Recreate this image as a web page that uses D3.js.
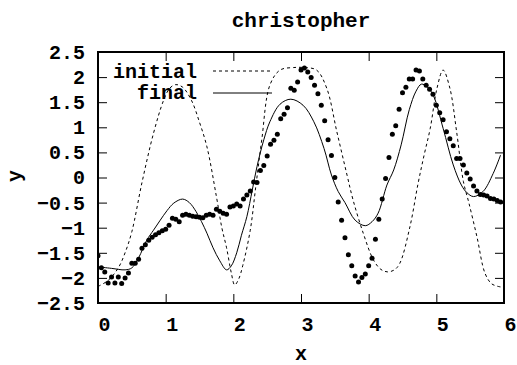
<!DOCTYPE html>
<html>
<head>
<meta charset="utf-8">
<script src="https://cdn.jsdelivr.net/npm/d3@7"></script>
<style>
  html, body { margin: 0; padding: 0; background: #fff; }
  svg { display: block; }
  text { font-family: "Liberation Mono", "DejaVu Sans Mono", monospace; font-weight: bold; fill: #000; }
</style>
</head>
<body>
<svg id="chart" width="517" height="365"></svg>
<script>
// ---------- data ----------
const title = "christopher";
const xLabel = "x";
const yLabel = "y";
const xTicks = [0, 1, 2, 3, 4, 5, 6];
const yTicks = [2.5, 2, 1.5, 1, 0.5, 0, -0.5, -1, -1.5, -2, -2.5];
const seriesNames = ["initial", "final"];

// observed data points (x grid step 0.05)
const dataStep = 0.05;
const dataY = [
  -1.56, -1.80, -1.88, -2.10, -1.98, -2.10, -1.98, -2.11, -2.00, -1.90,
  -1.71, -1.71, -1.63, -1.41, -1.34, -1.25, -1.19, -1.14, -1.10, -1.06,
  -1.03, -0.95, -0.81, -0.83, -0.88, -0.75, -0.73, -0.75, -0.77, -0.78,
  -0.79, -0.80, -0.75, -0.73, -0.75, -0.63, -0.67, -0.71, -0.73, -0.59,
  -0.57, -0.53, -0.57, -0.43, -0.35, -0.27, -0.09, -0.10, 0.14, 0.24,
  0.43, 0.66, 0.74, 0.86, 1.17, 1.26, 1.39, 1.78, 1.74, 1.90,
  2.14, 2.18, 2.10, 1.99, 1.84, 1.67, 1.44, 1.13, 0.75, 0.44,
  0.00, -0.49, -0.85, -1.20, -1.54, -1.76, -1.96, -2.08, -1.99, -1.92,
  -1.76, -1.61, -1.23, -0.83, -0.43, -0.02, 0.40, 0.86, 1.03, 1.36,
  1.69, 1.80, 1.96, 1.96, 2.14, 2.12, 1.96, 1.84, 1.76, 1.66,
  1.44, 1.29, 1.15, 0.91, 0.77, 0.63, 0.38, 0.38, 0.25, 0.09,
  -0.03, -0.17, -0.27, -0.34, -0.35, -0.37, -0.42, -0.43, -0.46, -0.49
];

// initial curve (dashed), sampled
const initialX = [0.00, 0.15, 0.30, 0.40, 0.50, 0.65, 0.82, 0.97, 1.06, 1.15, 1.25, 1.38, 1.50, 1.61, 1.75, 1.83, 1.90, 1.97, 2.02, 2.08, 2.14, 2.25, 2.33, 2.42, 2.54, 2.69, 2.89, 3.05, 3.23, 3.38, 3.53, 3.68, 3.77, 3.92, 4.07, 4.18, 4.28, 4.38, 4.46, 4.61, 4.73, 4.82, 4.91, 5.01, 5.10, 5.20, 5.30, 5.40, 5.48, 5.60, 5.72, 5.82, 5.95];
const initialY = [-2.17, -2.05, -1.80, -1.50, -1.08, -0.10, 0.88, 1.54, 1.78, 1.85, 1.80, 1.54, 1.10, 0.61, -0.38, -1.00, -1.40, -1.90, -2.14, -2.02, -1.75, -1.05, -0.20, 0.75, 1.84, 2.14, 2.19, 2.19, 2.14, 1.78, 0.91, 0.05, -0.45, -1.11, -1.64, -1.83, -1.88, -1.84, -1.71, -0.98, -0.12, 0.45, 0.98, 1.78, 2.14, 1.78, 0.91, -0.08, -0.50, -1.18, -1.91, -2.12, -2.18];

// final curve (solid), sampled
const finalX = [0.00, 0.20, 0.40, 0.50, 0.60, 0.72, 0.82, 0.92, 1.02, 1.12, 1.25, 1.35, 1.45, 1.53, 1.61, 1.70, 1.80, 1.90, 1.97, 2.05, 2.12, 2.20, 2.28, 2.35, 2.45, 2.54, 2.69, 2.85, 3.03, 3.19, 3.34, 3.45, 3.55, 3.65, 3.80, 3.95, 4.05, 4.14, 4.27, 4.37, 4.48, 4.60, 4.70, 4.78, 4.87, 4.96, 5.10, 5.25, 5.37, 5.45, 5.55, 5.69, 5.84, 5.95];
const finalY = [-1.78, -1.81, -1.84, -1.80, -1.60, -1.25, -1.05, -0.85, -0.66, -0.51, -0.43, -0.50, -0.68, -0.88, -1.11, -1.40, -1.66, -1.84, -1.76, -1.50, -1.15, -0.78, -0.25, 0.22, 0.75, 1.11, 1.46, 1.56, 1.44, 1.11, 0.58, 0.05, -0.28, -0.50, -0.85, -0.96, -0.88, -0.71, -0.15, 0.15, 0.65, 1.35, 1.72, 1.86, 1.80, 1.62, 0.98, 0.25, -0.15, -0.30, -0.38, -0.28, 0.08, 0.45];

// ---------- layout ----------
const svg = d3.select("#chart");
const L = 98, R = 504, T = 52, B = 303;
const x = d3.scaleLinear().domain([0, 6]).range([L, R]);
const y = d3.scaleLinear().domain([-2.5, 2.5]).range([B, T]);
const fs = 20;

// axes (ticks inward, mirrored)
const gx = svg.append("g").attr("transform", `translate(0,${B})`)
  .call(d3.axisBottom(x).tickValues(xTicks).tickSizeInner(-9).tickSizeOuter(0).tickPadding(14).tickFormat(d3.format("d")));
gx.selectAll("text").attr("dx", 6);
const gxt = svg.append("g").attr("transform", `translate(0,${T})`)
  .call(d3.axisTop(x).tickValues(xTicks).tickSizeInner(-9).tickSizeOuter(0).tickFormat(""));
const fmtY = d => (d < 0 ? "\u2212" : "") + d3.format("")(Math.abs(d));
const gy = svg.append("g").attr("transform", `translate(${L},0)`)
  .call(d3.axisLeft(y).tickValues(yTicks).tickSizeInner(-9).tickSizeOuter(0).tickPadding(13).tickFormat(fmtY));
const gyr = svg.append("g").attr("transform", `translate(${R},0)`)
  .call(d3.axisRight(y).tickValues(yTicks).tickSizeInner(-9).tickSizeOuter(0).tickFormat(""));
[gx, gxt, gy, gyr].forEach(g => {
  g.select(".domain").remove();
  g.selectAll("line").attr("stroke", "#000").attr("stroke-width", 1);
  g.selectAll("text").style("font-size", fs + "px").attr("fill", "#000");
});

// frame
svg.append("rect").attr("x", L).attr("y", T).attr("width", R - L).attr("height", B - T)
  .attr("fill", "none").attr("stroke", "#000").attr("stroke-width", 2);

// clip
svg.append("clipPath").attr("id", "clip").append("rect")
  .attr("x", L).attr("y", T).attr("width", R - L).attr("height", B - T);
const plot = svg.append("g").attr("clip-path", "url(#clip)");

const line = d3.line().x(d => x(d[0])).y(d => y(d[1])).curve(d3.curveCatmullRom.alpha(0.5));
const initialPts = initialX.map((v, i) => [v, initialY[i]]);
const finalPts = finalX.map((v, i) => [v, finalY[i]]);

plot.append("path").datum(initialPts).attr("d", line)
  .attr("fill", "none").attr("stroke", "#000").attr("stroke-width", 1).attr("stroke-dasharray", "3,3");
plot.append("path").datum(finalPts).attr("d", line)
  .attr("fill", "none").attr("stroke", "#000").attr("stroke-width", 1);

const dots = dataY.map((v, i) => [i * dataStep, v]);
plot.selectAll("circle.pt").data(dots).join("circle").attr("class", "pt")
  .attr("cx", d => x(d[0])).attr("cy", d => y(d[1])).attr("r", 2.5).attr("fill", "#000");

// legend
const leg = svg.append("g");
const legRows = [
  { name: seriesNames[0], dash: "3,3", ty: 78, ly: 71 },
  { name: seriesNames[1], dash: null, ty: 99, ly: 93 }
];
legRows.forEach(r => {
  leg.append("text").attr("x", 197).attr("y", r.ty).attr("text-anchor", "end")
    .style("font-size", fs + "px").text(r.name);
  const ln = leg.append("line").attr("x1", 213).attr("x2", 272).attr("y1", r.ly).attr("y2", r.ly)
    .attr("stroke", "#000").attr("stroke-width", 1);
  if (r.dash) ln.attr("stroke-dasharray", r.dash);
});

// labels
svg.append("text").attr("x", 301).attr("y", 27).attr("text-anchor", "middle")
  .style("font-size", "21px").text(title);
svg.append("text").attr("x", 301).attr("y", 360).attr("text-anchor", "middle")
  .style("font-size", fs + "px").text(xLabel);
svg.append("text").attr("transform", "translate(21,176) rotate(-90)").attr("text-anchor", "middle")
  .style("font-size", fs + "px").text(yLabel);
</script>
</body>
</html>
